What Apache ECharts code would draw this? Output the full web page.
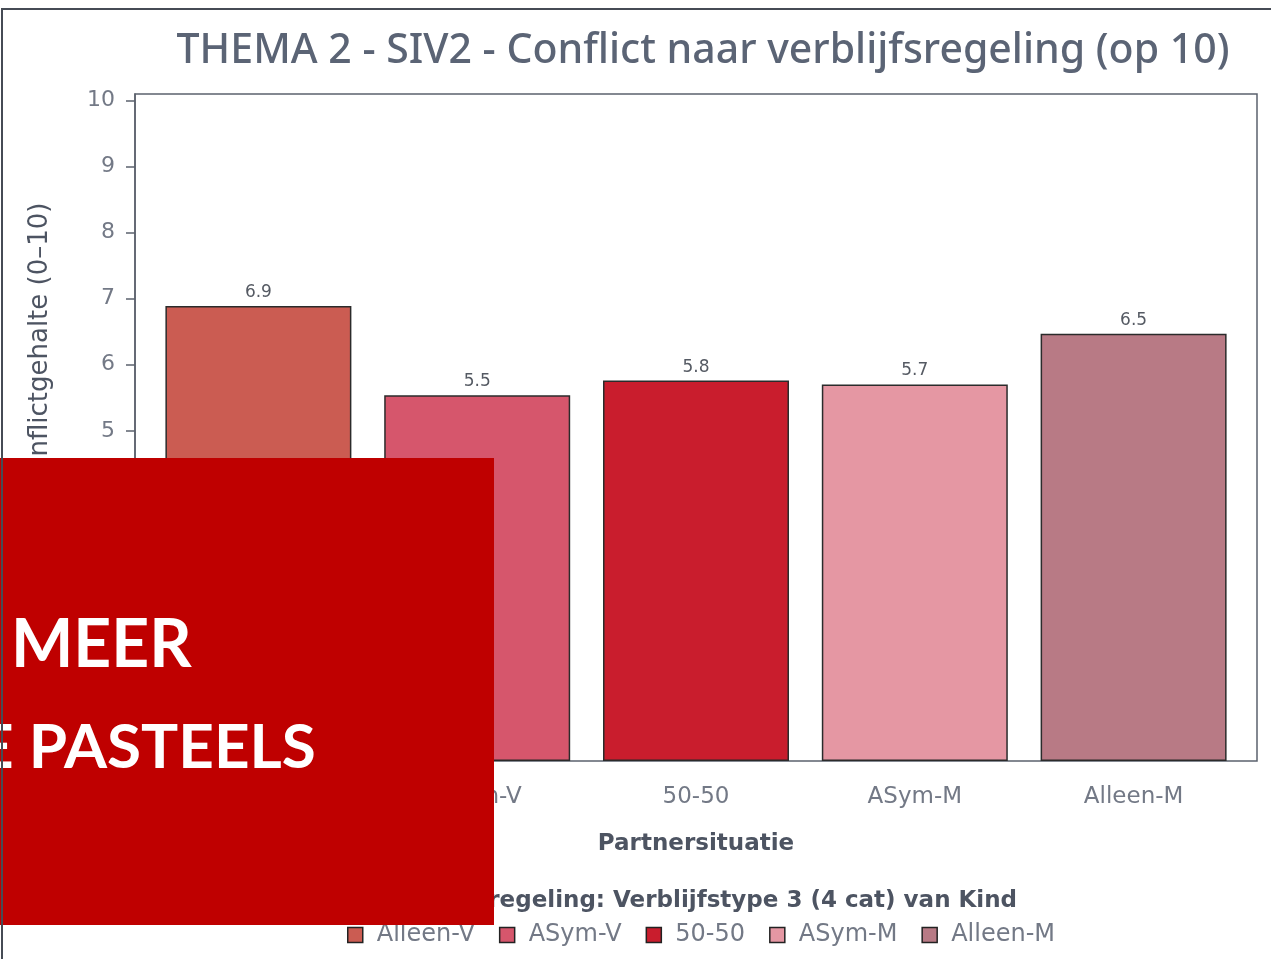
<!DOCTYPE html>
<html>
<head>
<meta charset="utf-8">
<script src="https://cdn.jsdelivr.net/npm/echarts@6/dist/echarts.min.js"></script>
<style>
    html, body { margin: 0; padding: 0; background: #fff; }
    #main { width: 1271px; height: 959px; position: relative; }
    #frame {
        position: absolute; left: 1px; top: 8px; right: -10px; bottom: -10px;
        border-top: 2px solid #464b55; border-left: 2px solid #464b55;
        pointer-events: none; z-index: 5;
    }
</style>
</head>
<body>
<div id="main"></div>
<div id="frame"></div>
<script>
// categories / data
var categories = ["Alleen-V", "ASym-V", "50-50", "ASym-M", "Alleen-M"];
var values = [6.89, 5.54, 5.76, 5.70, 6.47];
var barColors = ["#cb5c52", "#d6566c", "#c91d2d", "#e597a3", "#b87a85"];
var yTicks = [0, 1, 2, 3, 4, 5, 6, 7, 8, 9, 10];

var textGray = "#737986";
var darkGray = "#4d5462";
var axisCol = "#5b616d";
var font = "DejaVu Sans";

var chart = echarts.init(document.getElementById("main"));

// één serie per categorie, zodat de legenda per kleur werkt
var series = categories.map(function(name, i) {
    var d = categories.map(function(c, j) { return j === i ? values[i] : "-"; });
    return {
        name: name,
        type: "bar",
        xAxisIndex: 1,
        yAxisIndex: 1,
        data: d,
        barWidth: "85%",
        barGap: "-100%",
        itemStyle: { color: barColors[i], borderColor: "#2b2b2b", borderWidth: 1.5 },
        label: {
            show: true,
            position: "top",
            distance: 5,
            color: "#555a63",
            fontFamily: font,
            fontSize: 17,
            formatter: function(p) { return p.value.toFixed(1); }
        }
    };
});

var option = {
    animation: false,
    title: [{
        text: "THEMA 2 - SIV2 - Conflict naar verblijfsregeling (op 10)",
        left: 698, top: 26, textAlign: "center",
        textStyle: { color: "#5b6475", fontFamily: "Noto Sans", fontSize: 41, fontWeight: 500 }
    }, {
        text: "Verblijfsregeling: Verblijfstype 3 (4 cat) van Kind",
        left: 694, top: 885, textAlign: "center",
        textStyle: { color: darkGray, fontFamily: font, fontSize: 23, fontWeight: "bold" }
    }],
    grid: [
        // frame + y-as
        { left: 135, right: 14, top: 94, bottom: 198, show: true, borderColor: axisCol, borderWidth: 1.5 },
        // categorieën met wat ruimte aan de zijkant
        { left: 149, right: 28, top: 94, bottom: 198 }
    ],
    legend: {
        top: 918, left: 342,
        icon: "rect", itemWidth: 15, itemHeight: 15, itemGap: 24,
        itemStyle: { borderColor: "#222", borderWidth: 1.5 },
        textStyle: { color: textGray, fontFamily: font, fontSize: 24, padding: [0, 0, 0, 9] },
        data: categories
    },
    xAxis: [{
        gridIndex: 0,
        type: "category",
        data: categories,
        show: false
    }, {
        gridIndex: 1,
        type: "category",
        data: categories,
        name: "Partnersituatie",
        nameLocation: "middle",
        nameGap: 72,
        nameTextStyle: { color: darkGray, fontFamily: font, fontSize: 23, fontWeight: "bold" },
        axisLine: { show: false },
        axisTick: { alignWithLabel: true, length: 9, lineStyle: { color: axisCol, width: 1.5 } },
        axisLabel: { color: textGray, fontFamily: font, fontSize: 23, margin: 25 }
    }],
    yAxis: [{
        gridIndex: 0,
        type: "value",
        min: 0, max: 10.1,
        name: "Gemiddelde conflictgehalte (0–10)",
        nameLocation: "middle",
        nameGap: 82,
        nameTextStyle: { color: darkGray, fontFamily: font, fontSize: 26 },
        splitLine: { show: false },
        axisLine: { show: true, lineStyle: { color: axisCol, width: 1.5 } },
        axisTick: { show: true, length: 9, customValues: yTicks, lineStyle: { color: axisCol, width: 1.5 } },
        axisLabel: { color: textGray, fontFamily: font, fontSize: 22, margin: 20, customValues: yTicks }
    }, {
        gridIndex: 1,
        type: "value",
        min: 0, max: 10.1,
        show: false,
        splitLine: { show: false }
    }],
    series: series,
    graphic: [{
        type: "rect",
        zlevel: 10,
        shape: { x: 0, y: 458, width: 494, height: 467 },
        style: { fill: "#bf0000" }
    }, {
        type: "text",
        zlevel: 10,
        x: 11, y: 646,
        style: { text: "MEER", fill: "#fff", font: "bold 66px Lato", verticalAlign: "middle" }
    }, {
        type: "text",
        zlevel: 10,
        x: -22, y: 748,
        style: { text: "E PASTEELS", fill: "#fff", font: "bold 62px Lato", verticalAlign: "middle" }
    }]
};

chart.setOption(option);
</script>
</body>
</html>
